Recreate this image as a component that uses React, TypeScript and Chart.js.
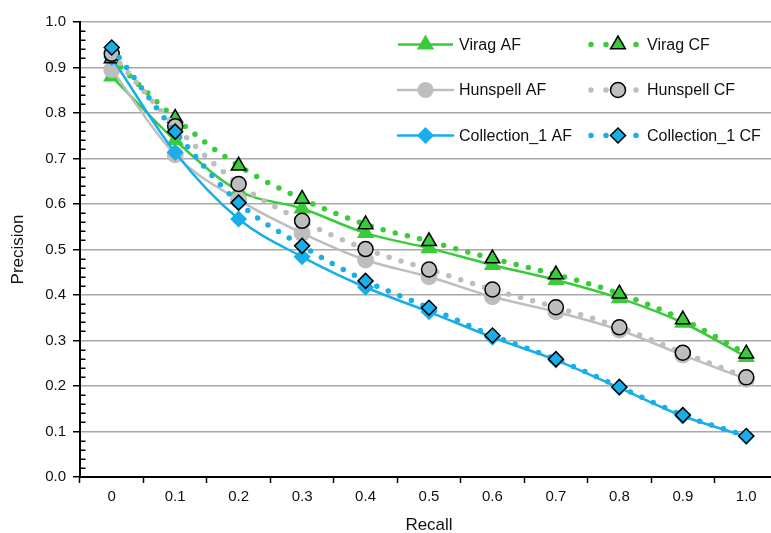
import React, { useEffect, useRef } from 'react';
import { Chart, registerables } from 'chart.js';

Chart.register(...registerables);

const recallLabels = ['0', '0.1', '0.2', '0.3', '0.4', '0.5', '0.6', '0.7', '0.8', '0.9', '1.0'];

const viragAF = [0.88, 0.74, 0.629, 0.59, 0.536, 0.503, 0.466, 0.433, 0.393, 0.339, 0.264];
const viragCF = [0.92, 0.789, 0.684, 0.611, 0.555, 0.518, 0.48, 0.445, 0.403, 0.346, 0.271];
const hunspellAF = [0.895, 0.708, 0.609, 0.536, 0.477, 0.44, 0.396, 0.363, 0.323, 0.268, 0.215];
const hunspellCF = [0.93, 0.771, 0.644, 0.563, 0.501, 0.456, 0.412, 0.373, 0.329, 0.273, 0.219];
const collectionAF = [0.922, 0.713, 0.567, 0.484, 0.417, 0.363, 0.307, 0.257, 0.196, 0.134, 0.089];
const collectionCF = [0.944, 0.759, 0.603, 0.508, 0.431, 0.372, 0.311, 0.259, 0.198, 0.136, 0.09];

const GREEN = '#3ACB3A';
const GRAY = '#BEBEBE';
const BLUE = '#18AEEA';
const FONT = "'Liberation Sans', Arial, Helvetica, sans-serif";

function drawMarker(ctx: CanvasRenderingContext2D, style: string, x: number, y: number, r: number, fill: string, stroke: string | null, bw: number) {
  ctx.save();
  ctx.beginPath();
  if (style === 'circle') {
    ctx.arc(x, y, r, 0, Math.PI * 2);
  } else if (style === 'triangle') {
    for (let i = 0; i < 3; i++) {
      const a = (i * 2 * Math.PI) / 3;
      const px = x + Math.sin(a) * r;
      const py = y - Math.cos(a) * r;
      if (i === 0) ctx.moveTo(px, py);
      else ctx.lineTo(px, py);
    }
  } else {
    ctx.moveTo(x, y - r);
    ctx.lineTo(x + r, y);
    ctx.lineTo(x, y + r);
    ctx.lineTo(x - r, y);
  }
  ctx.closePath();
  ctx.fillStyle = fill;
  ctx.fill();
  if (stroke && bw > 0) {
    ctx.lineWidth = bw;
    ctx.strokeStyle = stroke;
    ctx.stroke();
  }
  ctx.restore();
}

const legendItems = [
  { label: 'Virag AF', color: GREEN, style: 'triangle', r: 10, cf: false, col: 0, row: 0 },
  { label: 'Virag CF', color: GREEN, style: 'triangle', r: 8.5, cf: true, col: 1, row: 0 },
  { label: 'Hunspell AF', color: GRAY, style: 'circle', r: 8, cf: false, col: 0, row: 1 },
  { label: 'Hunspell CF', color: GRAY, style: 'circle', r: 7.5, cf: true, col: 1, row: 1 },
  { label: 'Collection_1 AF', color: BLUE, style: 'diamond', r: 8.5, cf: false, col: 0, row: 2 },
  { label: 'Collection_1 CF', color: BLUE, style: 'diamond', r: 7.5, cf: true, col: 1, row: 2 },
];

const legendPlugin = {
  id: 'customLegend',
  afterDraw(chart: any) {
    const ctx: CanvasRenderingContext2D = chart.ctx;
    const area = chart.chartArea;
    ctx.save();
    legendItems.forEach((it) => {
      const y = area.top + 22.5 + it.row * 45.5;
      if (!it.cf) {
        ctx.beginPath();
        ctx.strokeStyle = it.color;
        ctx.lineWidth = 2.5;
        ctx.moveTo(398, y);
        ctx.lineTo(453, y);
        ctx.stroke();
        drawMarker(ctx, it.style, 425.5, y, it.r, it.color, null, 0);
        ctx.fillStyle = '#111';
        ctx.font = `16px ${FONT}`;
        ctx.textBaseline = 'middle';
        ctx.textAlign = 'left';
        ctx.fillText(it.label, 459, y + 1);
      } else {
        ctx.beginPath();
        ctx.strokeStyle = it.color;
        ctx.lineWidth = 5.5;
        ctx.lineCap = 'round';
        ctx.setLineDash([0, 15]);
        ctx.moveTo(591, y);
        ctx.lineTo(637, y);
        ctx.stroke();
        ctx.setLineDash([]);
        drawMarker(ctx, it.style, 618, y, it.r, it.color, '#000', 1.5);
        ctx.fillStyle = '#111';
        ctx.font = `16px ${FONT}`;
        ctx.textBaseline = 'middle';
        ctx.textAlign = 'left';
        ctx.fillText(it.label, 647, y + 1);
      }
    });
    ctx.restore();
  },
};

const minorTickPlugin = {
  id: 'minorTicks',
  afterDraw(chart: any) {
    const ctx: CanvasRenderingContext2D = chart.ctx;
    const ys = chart.scales.y;
    const left = chart.chartArea.left;
    ctx.save();
    ctx.strokeStyle = '#000';
    ctx.lineWidth = 1.5;
    for (let i = 1; i < 50; i++) {
      if (i % 5 === 0) continue;
      const py = Math.round(ys.getPixelForValue(i / 50)) + 0.25;
      ctx.beginPath();
      ctx.moveTo(left, py);
      ctx.lineTo(left + 5.5, py);
      ctx.stroke();
    }
    ctx.restore();
  },
};

export default function App() {
  const ref = useRef<HTMLCanvasElement>(null);

  useEffect(() => {
    if (!ref.current) return;
    const afLine = (label: string, data: number[], color: string, style: string, r: number, order: number) => ({
      label,
      data,
      borderColor: color,
      backgroundColor: color,
      borderWidth: 2.5,
      pointStyle: style,
      pointRadius: r,
      pointBackgroundColor: color,
      pointBorderColor: color,
      pointBorderWidth: 0,
      cubicInterpolationMode: 'monotone' as const,
      order,
    });
    const cfLine = (label: string, data: number[], color: string, style: string, r: number, order: number) => ({
      label,
      data,
      borderColor: color,
      backgroundColor: color,
      borderWidth: 5.5,
      borderDash: [0, 12.5],
      borderCapStyle: 'round' as const,
      pointStyle: style,
      pointRadius: r,
      pointBackgroundColor: color,
      pointBorderColor: '#000',
      pointBorderWidth: 1.5,
      cubicInterpolationMode: 'monotone' as const,
      order,
    });

    const chart = new Chart(ref.current, {
      type: 'line',
      data: {
        labels: recallLabels,
        datasets: [
          afLine('Virag AF', viragAF, GREEN, 'triangle', 10, 6),
          cfLine('Virag CF', viragCF, GREEN, 'triangle', 8.5, 3),
          afLine('Hunspell AF', hunspellAF, GRAY, 'circle', 8.5, 5),
          cfLine('Hunspell CF', hunspellCF, GRAY, 'circle', 7.5, 2),
          afLine('Collection_1 AF', collectionAF, BLUE, 'rectRot', 8.5, 4),
          cfLine('Collection_1 CF', collectionCF, BLUE, 'rectRot', 7.5, 1),
        ],
      },
      options: {
        responsive: false,
        animation: false,
        devicePixelRatio: 1,
        layout: { padding: { left: 0, right: 22, top: 22, bottom: 0 } },
        plugins: {
          legend: { display: false },
          tooltip: { enabled: false },
        },
        scales: {
          x: {
            type: 'category',
            offset: true,
            grid: {
              offset: true,
              drawOnChartArea: false,
              drawTicks: true,
              tickLength: 6,
              tickColor: '#000',
              tickWidth: 1.5,
            },
            border: { color: '#000', width: 2 },
            ticks: {
              color: '#111',
              padding: 5,
              font: { family: FONT, size: 15 },
              maxRotation: 0,
              autoSkip: false,
            },
            title: {
              display: true,
              text: 'Recall',
              color: '#111',
              font: { family: FONT, size: 17 },
              padding: { top: 0, bottom: 0 },
            },
            afterFit: (scale: any) => {
              scale.height = 59;
            },
          },
          y: {
            min: 0,
            max: 1,
            ticks: {
              stepSize: 0.1,
              color: '#111',
              padding: 7,
              font: { family: FONT, size: 15 },
              callback: (v: any) => Number(v).toFixed(1),
            },
            grid: {
              color: '#A8A8A8',
              lineWidth: 1.5,
              tickLength: 7,
              tickColor: '#000',
              tickWidth: 1.5,
            },
            border: { color: '#000', width: 2 },
            title: {
              display: true,
              text: 'Precision',
              color: '#111',
              font: { family: FONT, size: 17 },
              padding: { top: 8, bottom: 0 },
            },
            afterFit: (scale: any) => {
              scale.width = 80;
            },
          },
        },
      },
      plugins: [minorTickPlugin, legendPlugin],
    });
    return () => chart.destroy();
  }, []);

  return (
    <div style={{ position: 'fixed', left: 0, top: 0, width: 771, height: 533, overflow: 'hidden', background: '#fff' }}>
      <canvas ref={ref} width={800} height={536} style={{ width: 800, height: 536, display: 'block' }} />
    </div>
  );
}
